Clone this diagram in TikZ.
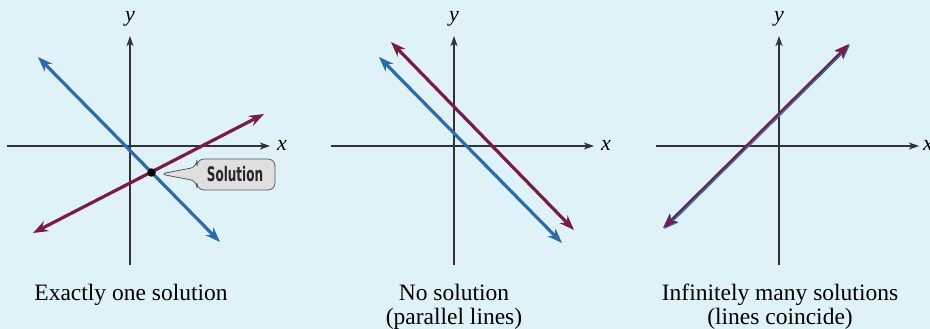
\documentclass[tikz,border=0pt]{standalone}
\usepackage{fontspec}
\setmainfont{Liberation Serif}
\newfontfamily\solfont[FakeStretch=0.6]{DejaVu Sans}
\usetikzlibrary{arrows.meta}
\definecolor{bgc}{HTML}{DFF2F8}
\definecolor{lblue}{HTML}{2B6CB0}
\definecolor{lmaroon}{HTML}{7A1A45}
\definecolor{axc}{HTML}{333333}
\tikzset{
  axis/.style={draw=axc, line width=1.3pt, -{Stealth[length=10pt,width=7pt,inset=2.5pt]}},
  gline/.style={line width=3.2pt, {Stealth[length=15pt,width=11pt,inset=5pt]}-{Stealth[length=15pt,width=11pt,inset=5pt]}},
  bline/.style={gline, draw=lblue},
  mline/.style={gline, draw=lmaroon},
  axlabel/.style={font=\fontsize{22}{22}\selectfont\itshape, inner sep=0pt},
  caption/.style={font=\fontsize{23.5}{25}\selectfont, inner sep=0pt, anchor=base},
  callout/.style={draw=gray!70!black, fill=gray!25, line width=0.8pt, rounded corners=7pt}
}
\begin{document}
\begin{tikzpicture}[x=1pt,y=-1pt]
\useasboundingbox[fill=bgc] (0,0) rectangle (930,329);
% ---------- panel 1 ----------
\coordinate (a1l) at (7,146); \coordinate (a1r) at (270,146);
\coordinate (a1b) at (130,265); \coordinate (a1t) at (130,36);
\draw[axis] (a1l) -- (a1r);
\draw[axis] (a1b) -- (a1t);
\node[axlabel] (x1) at (282,145) {x};
\node[axlabel] (y1) at (130,19) {y};
\coordinate (b1s) at (38,57); \coordinate (b1e) at (220,242);
\coordinate (m1s) at (33,233); \coordinate (m1e) at (264,114);
\draw[bline] (b1s) -- (b1e);
\draw[mline] (m1s) -- (m1e);
\node[circle, fill=black, inner sep=0pt, minimum size=8.5pt] (sol) at (151.5,172.5) {};
\draw[callout] (160,174) -- (197,167) -- (197,159) -- (275,159) -- (275,190) -- (197,190) -- (197,181) -- cycle;
\node[inner sep=0pt, font=\solfont\bfseries\fontsize{20}{20}\selectfont, text=black!85] (soltxt) at (235,174.5) {Solution};
\node[caption] (c1) at (131,300) {Exactly one solution};
% ---------- panel 2 ----------
\coordinate (a2l) at (331,146); \coordinate (a2r) at (594,146);
\coordinate (a2b) at (454,265); \coordinate (a2t) at (454,36);
\draw[axis] (a2l) -- (a2r);
\draw[axis] (a2b) -- (a2t);
\node[axlabel] (x2) at (606,145) {x};
\node[axlabel] (y2) at (454,19) {y};
\coordinate (m2s) at (391,42); \coordinate (m2e) at (574,230);
\coordinate (b2s) at (379,57); \coordinate (b2e) at (562,243);
\draw[mline] (m2s) -- (m2e);
\draw[bline] (b2s) -- (b2e);
\node[caption] (c2a) at (454,300) {No solution};
\node[caption] (c2b) at (454,324) {(parallel lines)};
% ---------- panel 3 ----------
\coordinate (a3l) at (656,146); \coordinate (a3r) at (919,146);
\coordinate (a3b) at (779,265); \coordinate (a3t) at (779,36);
\draw[axis] (a3l) -- (a3r);
\draw[axis] (a3b) -- (a3t);
\node[axlabel] (x3) at (928,145) {x};
\node[axlabel] (y3) at (779,19) {y};
\coordinate (b3s) at (664,229); \coordinate (b3e) at (850,45);
\coordinate (m3s) at (663,228); \coordinate (m3e) at (849,44);
\draw[bline, line width=2.6pt] (b3s) -- (b3e);
\draw[mline, line width=2pt] (m3s) -- (m3e);
\node[caption] (c3a) at (780,300) {Infinitely many solutions};
\node[caption] (c3b) at (780,324) {(lines coincide)};
\end{tikzpicture}
\end{document}
